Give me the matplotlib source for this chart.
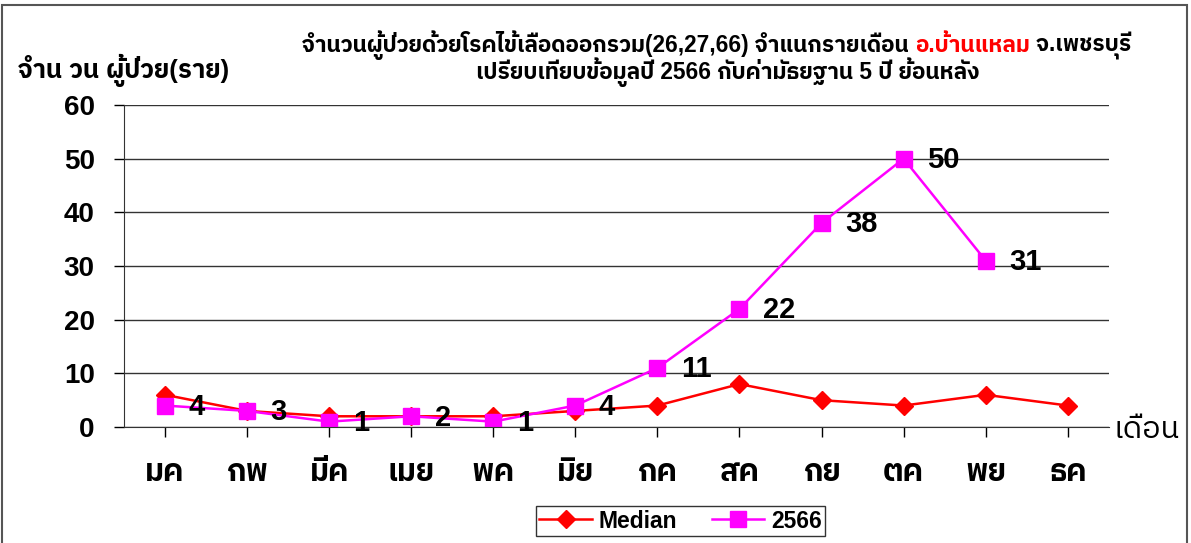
"""Dengue cases per month, Ban Laem district: 2566 vs 5-year median."""
import matplotlib
matplotlib.use("Agg")
import matplotlib.pyplot as plt
from matplotlib import font_manager
from matplotlib.ft2font import FT2Font
from matplotlib.patches import Rectangle

# ===================== data =====================
months = ["มค", "กพ", "มีค", "เมย", "พค", "มิย", "กค", "สค", "กย", "ตค", "พย", "ธค"]
median = [6, 3, 2, 2, 2, 3, 4, 8, 5, 4, 6, 4]
cases_2566 = [4, 3, 1, 2, 1, 4, 11, 22, 38, 50, 31]
y_ticks = [0, 10, 20, 30, 40, 50, 60]

title_1a = "จำนวนผู้ป่วยด้วยโรคไข้เลือดออกรวม(26,27,66) จำแนกรายเดือน "
title_1b = "อ.บ้านแหลม"
title_1c = " จ.เพชรบุรี"
title_2 = "เปรียบเทียบข้อมูลปี 2566 กับค่ามัธยฐาน 5 ปี ย้อนหลัง"
ylabel = "จำน วน ผู้ป่วย(ราย)"
xlabel = "เดือน"


# find some installed font that has Thai glyphs
def find_thai_font():
    names = []
    for f in font_manager.fontManager.ttflist:
        try:
            if 0x0E08 in FT2Font(f.fname).get_charmap():
                names.append(f.name)
        except Exception:
            pass
    for n in names:
        if "Thai" in n:
            return n
    return names[0] if names else None


thai = find_thai_font()
fams = ["Liberation Sans"] + ([thai] if thai else []) + ["DejaVu Sans"]
plt.rcParams["font.family"] = fams

fig = plt.figure(figsize=(11.91, 5.43), dpi=100)
ax = fig.add_axes([0.104, 0.2136, 0.827, 0.593])

x = list(range(len(months)))
ax.plot(x, median, color="#FF0000", lw=1.8, marker="D", ms=9, label="Median")
ax.plot(x[:len(cases_2566)], cases_2566, color="#FF00FF", lw=1.8, marker="s", ms=11,
        label="2566")

# data labels for 2566
for i, v in enumerate(cases_2566):
    ax.annotate(str(v), (i, v), xytext=(17, -1), textcoords="offset points",
                va="center", ha="left", fontsize=21, fontweight="bold")

ax.set_xlim(-0.5, 11.5)
ax.set_ylim(0, 60)
ax.set_yticks(y_ticks)
ax.set_xticks(x)
ax.set_xticklabels(months, fontsize=22, fontweight="bold")
ax.tick_params(axis="y", labelsize=20, length=7, width=1, direction="out", pad=14)
ax.tick_params(axis="x", length=7, width=1, direction="out", pad=15)
for t in ax.get_yticklabels():
    t.set_fontweight("bold")
ax.grid(True, axis="y", color="#333333", lw=1)
ax.set_axisbelow(True)
for s in ["top", "right"]:
    ax.spines[s].set_visible(False)
ax.spines["left"].set_color("#333333")
ax.spines["bottom"].set_color("#333333")

ax.legend(loc="center", bbox_to_anchor=(0.5715, 0.0405), bbox_transform=fig.transFigure,
          ncol=2, frameon=True, fancybox=False, edgecolor="black",
          prop={"weight": "bold", "size": 16.5}, handlelength=2.3, borderpad=0.15,
          columnspacing=1.5, handletextpad=0.3, borderaxespad=0)

fig.text(0.015, 0.871, ylabel, fontsize=18.5, fontweight="bold", va="center")
fig.text(0.935, 0.208, xlabel, fontsize=22, va="center")

# title line 1: three pieces, middle one red
y1 = 0.905
tsize = 16.3
t1 = fig.text(0.21, y1, title_1a, fontsize=tsize, fontweight="bold", va="baseline")
t2 = fig.text(0.5, y1, title_1b, fontsize=tsize, fontweight="bold", va="baseline", color="red")
t3 = fig.text(0.6, y1, title_1c, fontsize=tsize, fontweight="bold", va="baseline")
fig.canvas.draw()
r = fig.canvas.get_renderer()
w1 = t1.get_window_extent(r).width / fig.bbox.width
w2 = t2.get_window_extent(r).width / fig.bbox.width
w3 = t3.get_window_extent(r).width / fig.bbox.width
x0 = 0.602 - (w1 + w2 + w3) / 2
t1.set_x(x0)
t2.set_x(x0 + w1)
t3.set_x(x0 + w1 + w2)
fig.text(0.611, 0.855, title_2, fontsize=tsize, fontweight="bold", va="baseline", ha="center")

fig.patches.append(Rectangle((0.002, -0.01), 0.995, 1.0, transform=fig.transFigure,
                             fill=False, edgecolor="#555555", lw=1.5))

fig.savefig("out.png", dpi=100)
